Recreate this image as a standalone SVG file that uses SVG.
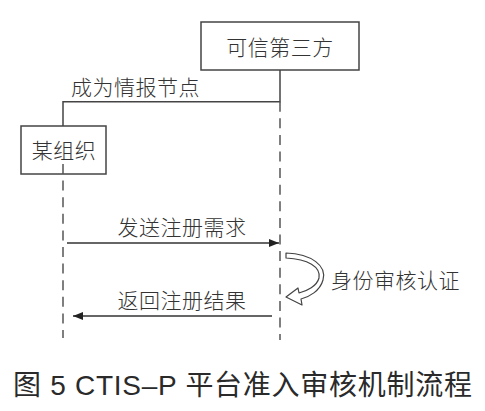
<svg xmlns="http://www.w3.org/2000/svg" width="485" height="411" viewBox="0 0 485 411">
<defs>
<style>
.box{fill:#fff;stroke:#444;stroke-width:1.5}
.lbl{font-family:"Noto Sans CJK SC","Noto Sans",sans-serif;font-size:21px;fill:#333;font-weight:300}
.life{stroke:#555;stroke-width:1.5;fill:none;stroke-dasharray:10 6.6}
.solid{stroke:#444;stroke-width:1.5;fill:none}
.msg{stroke:#333;stroke-width:1.3;fill:none}
.cap{font-family:"Liberation Sans","Noto Sans CJK SC",sans-serif;font-size:28px;fill:#2a2a2a}
</style>
<marker id="ah" viewBox="0 0 10 8" refX="10" refY="4" markerWidth="10" markerHeight="8" markerUnits="userSpaceOnUse" orient="auto">
<path d="M0,0 L10,4 L0,8 Z" fill="#222"/>
</marker>
</defs>
<g id="third-party">
<rect class="box" x="201" y="22" width="158" height="48"/>
<text class="lbl" x="280" y="46" text-anchor="middle" dominant-baseline="central" letter-spacing="0.5">可信第三方</text>
</g>
<g id="org">
<rect class="box" x="21" y="126" width="85" height="48"/>
<text class="lbl" x="64" y="149" text-anchor="middle" dominant-baseline="central" letter-spacing="0.5">某组织</text>
</g>
<g id="connectors">
<path class="solid" d="M280,70 V101.7 H63 V126"/>
<line class="life" x1="280" y1="101.7" x2="280" y2="340"/>
<line class="life" x1="63" y1="164" x2="63" y2="338"/>
<text class="lbl" x="71" y="86" dominant-baseline="central" letter-spacing="0.5">成为情报节点</text>
<line class="msg" x1="67" y1="243" x2="279" y2="243" marker-end="url(#ah)"/>
<text class="lbl" x="182" y="226" text-anchor="middle" dominant-baseline="central" letter-spacing="0.5">发送注册需求</text>
<path d="M286,253 C312,254 327,266 323,280 C320,291 309,297 301,299 L302,305 L286,297 L298,288 L299,293 C307,291 317,286 319,278 C321,267 308,259 286,258 Z" fill="#fff" stroke="#444" stroke-width="1.2" stroke-linejoin="round"/>
<text class="lbl" x="331" y="279" dominant-baseline="central" letter-spacing="0.5">身份审核认证</text>
<line class="msg" x1="272" y1="316" x2="73" y2="316" marker-end="url(#ah)"/>
<text class="lbl" x="182" y="299" text-anchor="middle" dominant-baseline="central" letter-spacing="0.5">返回注册结果</text>
</g>
<text class="cap" x="13" y="385" dominant-baseline="central" textLength="459" lengthAdjust="spacing">图 5 CTIS–P 平台准入审核机制流程</text>
</svg>
